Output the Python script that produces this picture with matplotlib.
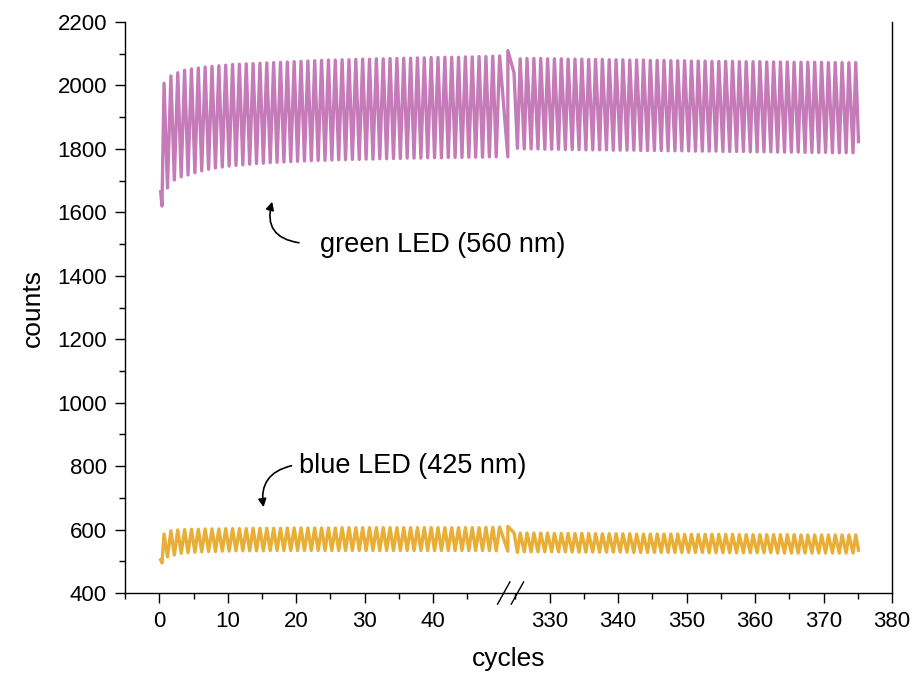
import matplotlib.pyplot as plt
import numpy as np
from matplotlib.patches import FancyArrowPatch
from matplotlib.lines import Line2D

plt.rcParams['font.family'] = ['Liberation Sans', 'DejaVu Sans']

# cycles above the break are drawn shifted left by this many cycles
BREAK_SHIFT = 273

# green LED (560 nm), counts at the start, peaks/troughs of each cycle
green_start = [1665, 1620]
green_left_peaks = [2007, 2030, 2040, 2048, 2052, 2055, 2058, 2060, 2062, 2064,
                    2066, 2067, 2068, 2069, 2070, 2071, 2072, 2073, 2074, 2075,
                    2076, 2077, 2078, 2079, 2080, 2080, 2081, 2081, 2082, 2083,
                    2083, 2084, 2084, 2085, 2085, 2086, 2086, 2087, 2087, 2088,
                    2088, 2089, 2089, 2089, 2090, 2090, 2091, 2091, 2092, 2093]
green_left_troughs = [1677, 1702, 1712, 1718, 1725, 1731, 1736, 1740, 1743, 1746,
                      1748, 1750, 1752, 1754, 1755, 1757, 1758, 1759, 1760, 1761,
                      1762, 1763, 1764, 1764, 1765, 1766, 1766, 1767, 1767, 1768,
                      1768, 1769, 1769, 1770, 1770, 1771, 1771, 1771, 1772, 1772,
                      1772, 1773, 1773, 1773, 1774, 1774, 1774, 1775, 1775, 1775]
green_right_start = [2110, 2040]
green_right_troughs = [1802, 1800, 1800, 1800, 1799, 1799, 1799, 1798, 1798, 1798,
                       1797, 1797, 1797, 1797, 1796, 1796, 1796, 1796, 1795, 1795,
                       1795, 1795, 1794, 1794, 1794, 1794, 1793, 1793, 1793, 1793,
                       1792, 1792, 1792, 1792, 1791, 1791, 1791, 1791, 1790, 1790,
                       1790, 1790, 1789, 1789, 1789, 1789, 1788, 1788, 1788, 1788]
green_right_peaks = [2084, 2085, 2085, 2085, 2084, 2084, 2084, 2083, 2083, 2083,
                     2082, 2082, 2082, 2081, 2081, 2081, 2080, 2080, 2080, 2079,
                     2079, 2079, 2078, 2078, 2078, 2077, 2077, 2077, 2076, 2076,
                     2076, 2076, 2075, 2075, 2075, 2075, 2074, 2074, 2074, 2074,
                     2073, 2073, 2073, 2073, 2073, 2072, 2072, 2072, 2072, 2072]
green_end = 1823

# blue LED (425 nm)
blue_start = [505, 495]
blue_left_peaks = [586, 596, 599, 600, 601, 601, 602, 602, 602, 603,
                   603, 603, 603, 604, 604, 604, 604, 604, 605, 605,
                   605, 605, 605, 605, 605, 605, 606, 606, 606, 606,
                   606, 606, 606, 606, 606, 606, 606, 606, 606, 606,
                   606, 606, 606, 606, 606, 606, 606, 607, 607, 608]
blue_left_troughs = [514, 520, 525, 527, 529, 530, 531, 531, 532, 532,
                     533, 533, 533, 533, 533, 534, 534, 534, 534, 534,
                     534, 534, 534, 534, 534, 534, 534, 534, 534, 534,
                     534, 534, 534, 534, 534, 534, 534, 534, 534, 534,
                     534, 534, 534, 534, 534, 534, 534, 534, 533, 532]
blue_right_start = [610, 590]
blue_right_troughs = [528, 530, 530, 530, 530, 530, 530, 530, 529, 529,
                      529, 529, 529, 529, 529, 529, 529, 528, 528, 528,
                      528, 528, 528, 528, 528, 528, 528, 528, 527, 527,
                      527, 527, 527, 527, 527, 527, 527, 527, 526, 526,
                      526, 526, 526, 526, 526, 526, 526, 526, 526, 526]
blue_right_peaks = [589, 589, 589, 589, 589, 588, 588, 588, 588, 588,
                    588, 587, 587, 587, 587, 587, 587, 586, 586, 586,
                    586, 586, 586, 586, 585, 585, 585, 585, 585, 585,
                    585, 585, 584, 584, 584, 584, 584, 584, 584, 584,
                    584, 583, 583, 583, 583, 583, 583, 583, 583, 583]
blue_end = 535

# sample positions in cycles
start_x = [0.2, 0.4]
left_peak_x = np.arange(50) + 0.7
left_trough_x = np.append(np.arange(1, 50) + 0.2, 50.9)
right_start_x = [323.9, 324.8]
right_trough_x = np.arange(325, 375) + 0.3
right_peak_x = np.arange(325, 375) + 0.7
end_x = 375.1

major_left = [0, 10, 20, 30, 40]
major_right = [330, 340, 350, 360, 370, 380]
minor_left = [-5, 5, 15, 25, 35, 45]
minor_right = [325, 335, 345, 355, 365, 375]


def interleave(a, b):
    return np.column_stack([a, b]).ravel()


def build(start, lp, lt, rstart, rt, rp, end):
    x = np.concatenate([start_x, interleave(left_peak_x, left_trough_x),
                        right_start_x, interleave(right_trough_x, right_peak_x),
                        [end_x]])
    y = np.concatenate([start, interleave(lp, lt), rstart,
                        interleave(rt, rp), [end]])
    return x, y


def shift(x):
    x = np.asarray(x, dtype=float)
    return np.where(x > 300, x - BREAK_SHIFT, x)


def main():
    fig = plt.figure(figsize=(9.22, 6.8), dpi=100)
    ax = fig.add_axes([0.1356, 0.1279, 0.8319, 0.8397])

    gx, gy = build(green_start, green_left_peaks, green_left_troughs,
                   green_right_start, green_right_troughs, green_right_peaks,
                   green_end)
    bx, by = build(blue_start, blue_left_peaks, blue_left_troughs,
                   blue_right_start, blue_right_troughs, blue_right_peaks,
                   blue_end)
    ax.plot(shift(gx), gy, color='#c67bb9', lw=2.4, solid_joinstyle='round')
    ax.plot(shift(bx), by, color='#e8ae35', lw=2.4, solid_joinstyle='round')

    ax.set_xlim(-5, 380 - BREAK_SHIFT)
    ax.set_ylim(400, 2200)
    ax.set_xticks(shift(major_left + major_right))
    ax.set_xticklabels([str(v) for v in major_left + major_right])
    ax.set_xticks(shift(minor_left + minor_right), minor=True)
    ax.set_yticks(np.arange(400, 2201, 200))
    ax.set_yticks(np.arange(500, 2200, 200), minor=True)
    ax.tick_params(which='major', direction='out', length=7, width=1.0,
                   labelsize=16, pad=6)
    ax.tick_params(which='minor', direction='out', length=4, width=1.0)
    ax.spines['top'].set_visible(False)
    for s in ax.spines.values():
        s.set_linewidth(1.0)

    ax.set_xlabel('cycles', fontsize=19, labelpad=11)
    ax.set_ylabel('counts', fontsize=19, labelpad=9)

    # axis break marks
    for xb in (50.3, 52.3):
        ax.add_line(Line2D([xb - 0.9, xb + 0.9], [365, 435], color='black',
                           lw=1.0, clip_on=False))

    ax.text(23.4, 1497, 'green LED (560 nm)', fontsize=19.5, va='center')
    ax.add_patch(FancyArrowPatch((20.8, 1503), (16.6, 1642),
                                 connectionstyle='arc3,rad=-0.6',
                                 arrowstyle='-|>', mutation_scale=12,
                                 lw=1.2, color='black'))
    ax.text(20.4, 800, 'blue LED (425 nm)', fontsize=19.5, va='center')
    ax.add_patch(FancyArrowPatch((19.7, 803), (15.3, 662),
                                 connectionstyle='arc3,rad=0.5',
                                 arrowstyle='-|>', mutation_scale=12,
                                 lw=1.2, color='black'))

    fig.savefig('out.png', dpi=100)


if __name__ == '__main__':
    main()
